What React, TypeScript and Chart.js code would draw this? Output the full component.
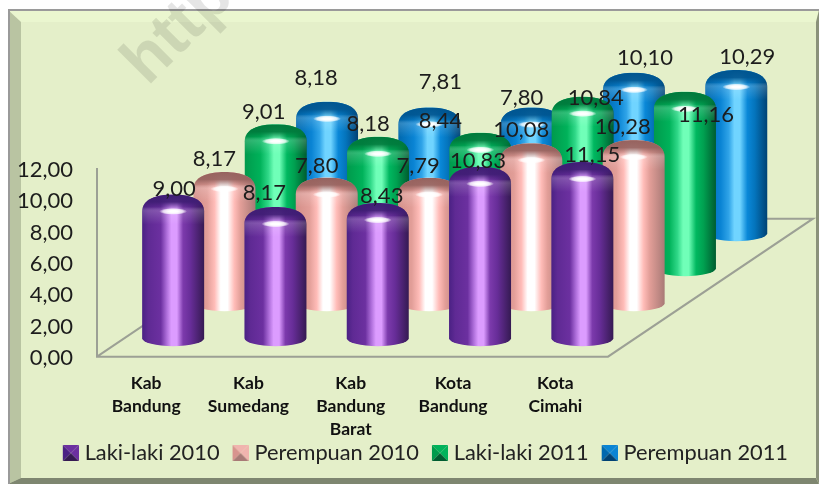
import React, { useEffect, useRef } from "react";
import { Chart, registerables } from "chart.js";

Chart.register(...registerables);

const categories = [["Kab", "Bandung"], ["Kab", "Sumedang"], ["Kab", "Bandung", "Barat"], ["Kota", "Bandung"], ["Kota", "Cimahi"]];
const lakiLaki2010 = [9.0, 8.17, 8.43, 10.83, 11.15];
const perempuan2010 = [8.17, 7.8, 7.79, 10.08, 10.28];
const lakiLaki2011 = [9.01, 8.18, 8.44, 10.84, 11.16];
const perempuan2011 = [8.18, 7.81, 7.8, 10.1, 10.29];
const seriesNames = ["Laki-laki 2010", "Perempuan 2010", "Laki-laki 2011", "Perempuan 2011"];

// horizontal shading of each cylinder, as [position, colour] stops
const shades: [number, string][][] = [
  [[0, "#4a2184"], [0.1, "#5f2a94"], [0.3, "#6c30a0"], [0.4, "#b070dc"], [0.47, "#dc9cff"], [0.56, "#dc9cff"], [0.66, "#7c3aac"], [0.78, "#672d98"], [1, "#351a52"]],
  [[0, "#d48f89"], [0.22, "#e29e98"], [0.34, "#ffbcb8"], [0.44, "#ffffff"], [0.55, "#ffffff"], [0.66, "#ffbcb8"], [0.76, "#e29e98"], [1, "#a87a76"]],
  [[0, "#009a4c"], [0.25, "#00b25a"], [0.38, "#30d888"], [0.47, "#70ffb8"], [0.56, "#70ffb8"], [0.68, "#00b860"], [0.8, "#00a050"], [1, "#005c30"]],
  [[0, "#0068ae"], [0.25, "#0a84d4"], [0.38, "#30a4e8"], [0.47, "#70d4ff"], [0.56, "#70d4ff"], [0.68, "#0a88d8"], [0.8, "#0474bc"], [1, "#004274"]],
];
const rims = ["#3f1d74", "#96625e", "#007a3c", "#005590"];
const swatchTones = [
  ["#4a2184", "#6c30a0", "#351a52"],
  ["#d8948e", "#f0b4ae", "#a87a76"],
  ["#009a4c", "#00b25a", "#005c30"],
  ["#0068ae", "#0a84d4", "#004274"],
];

// label displacement from the cylinder's cap, as placed in the source chart
const labelNudges = [
  [[1, -14], [-11, -22], [4, -15], [-2, -14], [10, -15]],
  [[-10, -21], [-10, -20], [-11, -20], [-10, -21], [-11, -21]],
  [[-12, -20], [-10, -21], [-40, -20], [13, -7], [21, 15]],
  [[-11, -32], [11, -33], [-10, -18], [11, -23], [11, -21]],
];

const FONT = "Lato, Carlito, sans-serif";
const DEPTH_X = 51.3;
const DEPTH_Y = 35;
const RADIUS = 31;
const ELLIPSE = 8;
const PERSPECTIVE = 0.9645;
const FLOOR_LIFT = 19.5;

function capCenter(el: any, s: number) {
  const baseY = el.base - FLOOR_LIFT - DEPTH_Y * s;
  return { cx: el.x + DEPTH_X * s, baseY, topY: baseY - (el.base - el.y) * PERSPECTIVE };
}

function cylinder(ctx: CanvasRenderingContext2D, cx: number, baseY: number, topY: number, s: number) {
  const l = cx - RADIUS;
  const r = cx + RADIUS;
  const top = topY - ELLIPSE;
  ctx.save();
  ctx.beginPath();
  ctx.moveTo(l, baseY);
  ctx.lineTo(l, top + 17);
  ctx.bezierCurveTo(l, top + 5, l + 14, top, cx, top);
  ctx.bezierCurveTo(r - 14, top, r, top + 5, r, top + 17);
  ctx.lineTo(r, baseY);
  ctx.ellipse(cx, baseY, RADIUS, ELLIPSE, 0, 0, Math.PI);
  ctx.closePath();
  const g = ctx.createLinearGradient(l, 0, r, 0);
  shades[s].forEach(([p, c]) => g.addColorStop(p, c));
  ctx.fillStyle = g;
  ctx.fill();
  ctx.clip();
  // cap: dark rim, fading to a light band
  const v = ctx.createLinearGradient(0, top, 0, top + 30);
  v.addColorStop(0, rims[s]);
  v.addColorStop(0.25, rims[s] + "ee");
  v.addColorStop(0.42, rims[s] + "55");
  v.addColorStop(0.55, "rgba(255,255,255,0.18)");
  v.addColorStop(1, "rgba(255,255,255,0)");
  ctx.fillStyle = v;
  ctx.fillRect(l, top, RADIUS * 2, 30);
  // highlight
  ctx.translate(cx, top + 17);
  ctx.scale(1, 0.24);
  const h = ctx.createRadialGradient(0, 0, 4, 0, 0, 14);
  h.addColorStop(0, "rgba(255,255,255,1)");
  h.addColorStop(0.6, "rgba(255,255,255,0.75)");
  h.addColorStop(1, "rgba(255,255,255,0)");
  ctx.fillStyle = h;
  ctx.beginPath();
  ctx.arc(0, 0, 14, 0, Math.PI * 2);
  ctx.fill();
  ctx.restore();
}

const scene = {
  id: "scene",
  afterLayout(chart: any) {
    // let the third line of a category label run past the axis box
    chart.scales.x.bottom = chart.height;
  },
  beforeDraw(chart: any) {
    const { ctx, width: w, height: h } = chart;
    const x0 = 8, y0 = 10, x1 = 816, y1 = 478, bx = 21, by = 22;
    ctx.save();
    ctx.fillStyle = "#ffffff";
    ctx.fillRect(0, 0, w, h);
    ctx.fillStyle = "#e4efc9";
    ctx.fillRect(x0, y0, w - x0, h - y0);
    ctx.fillStyle = "#eaf6cf";
    ctx.beginPath();
    ctx.moveTo(x0, y0); ctx.lineTo(w, y0); ctx.lineTo(x1, by); ctx.lineTo(bx, by);
    ctx.closePath(); ctx.fill();
    ctx.fillStyle = "#b9c4a2";
    ctx.beginPath();
    ctx.moveTo(x0, y0); ctx.lineTo(bx, by); ctx.lineTo(bx, y1); ctx.lineTo(x0, h);
    ctx.closePath(); ctx.fill();
    ctx.fillStyle = "#7e8670";
    ctx.beginPath();
    ctx.moveTo(x0, h); ctx.lineTo(bx, y1); ctx.lineTo(x1, y1); ctx.lineTo(w, h);
    ctx.closePath(); ctx.fill();
    ctx.fillStyle = "#8a917a";
    ctx.beginPath();
    ctx.moveTo(w, y0); ctx.lineTo(x1, by); ctx.lineTo(x1, y1); ctx.lineTo(w, h);
    ctx.closePath(); ctx.fill();
    ctx.strokeStyle = "#9a9a9a";
    ctx.lineWidth = 2;
    ctx.beginPath();
    ctx.moveTo(x0 + 1, h); ctx.lineTo(x0 + 1, y0); ctx.lineTo(w, y0);
    ctx.stroke();
    // watermark
    ctx.translate(135, 74);
    ctx.rotate(-Math.PI / 4);
    ctx.fillStyle = "rgba(0,0,0,0.1)";
    ctx.font = "bold 66px 'Liberation Sans', sans-serif";
    ctx.fillText("http", 0, 0);
    ctx.restore();
  },
  beforeDatasetsDraw(chart: any) {
    const { ctx, chartArea: a } = chart;
    const left = a.left - 25;
    const right = a.right - 25.5;
    const floor = a.bottom - 1;
    const backDx = 205;
    const backDy = 138;
    ctx.save();
    ctx.strokeStyle = "#9ca095";
    ctx.lineWidth = 2;
    ctx.beginPath();
    ctx.moveTo(left, a.top - 2);
    ctx.lineTo(left, floor);
    ctx.lineTo(right, floor);
    ctx.lineTo(right + backDx, floor - backDy);
    ctx.lineTo(left + backDx, floor - backDy);
    ctx.lineTo(left, floor);
    ctx.stroke();
    ctx.restore();
  },
  beforeDatasetDraw(chart: any, args: any) {
    const s = args.index;
    const meta = chart.getDatasetMeta(s);
    meta.data.forEach((el: any) => {
      const p = capCenter(el, s);
      cylinder(chart.ctx, p.cx, p.baseY, p.topY, s);
    });
    return false;
  },
  afterDatasetsDraw(chart: any) {
    const { ctx } = chart;
    ctx.save();
    ctx.fillStyle = "#1c1c1c";
    ctx.font = `22px ${FONT}`;
    ctx.textAlign = "center";
    ctx.textBaseline = "middle";
    chart.data.datasets.forEach((ds: any, s: number) => {
      chart.getDatasetMeta(s).data.forEach((el: any, i: number) => {
        const p = capCenter(el, s);
        const [nx, ny] = labelNudges[s][i];
        ctx.fillText(ds.data[i].toFixed(2).replace(".", ","), p.cx + nx, p.topY + ny);
      });
    });
    ctx.restore();
  },
};

function swatch(s: number) {
  const c = document.createElement("canvas");
  c.width = 22;
  c.height = 16;
  const g = c.getContext("2d")!;
  const x = 6, w = 16, h = 16;
  const tri = (pts: number[][], col: string) => {
    g.fillStyle = col;
    g.beginPath();
    pts.forEach((p, i) => (i ? g.lineTo(p[0], p[1]) : g.moveTo(p[0], p[1])));
    g.closePath();
    g.fill();
  };
  const m = [x + w / 2, h / 2];
  const t = swatchTones[s];
  tri([[x, 0], [x + w, 0], m], t[1]);
  tri([[x, 0], [x, h], m], t[0]);
  tri([[x + w, 0], [x + w, h], m], t[1]);
  tri([[x, h], [x + w, h], m], t[2]);
  return c;
}

export default function App() {
  const ref = useRef<HTMLCanvasElement>(null);
  useEffect(() => {
    const swatches = [0, 1, 2, 3].map(swatch);
    const values = [lakiLaki2010, perempuan2010, lakiLaki2011, perempuan2011];
    const chart = new Chart(ref.current!, {
      type: "bar",
      data: {
        labels: categories,
        datasets: values.map((data, s) => ({
          label: seriesNames[s],
          data,
          backgroundColor: swatchTones[s][1],
          grouped: false,
        })),
      },
      plugins: [scene],
      options: {
        animation: false,
        responsive: false,
        devicePixelRatio: 1,
        layout: { padding: { top: 170, left: 0, right: 19, bottom: 10 } },
        scales: {
          x: {
            offset: true,
            grid: { display: false },
            border: { display: false },
            afterFit: (sc: any) => { sc.height = 72.5; },
            ticks: {
              autoSkip: false,
              maxRotation: 0,
              minRotation: 0,
              labelOffset: -27,
              padding: 6,
              color: "#111111",
              font: { family: FONT, size: 17.5, weight: "bold", lineHeight: 1.32 },
            },
          },
          y: {
            min: 0,
            max: 12,
            grid: { display: false },
            border: { display: false },
            afterFit: (sc: any) => { sc.width = 122; },
            ticks: {
              stepSize: 2,
              padding: 41,
              color: "#1c1c1c",
              font: { family: FONT, size: 22 },
              callback: (v: any) => Number(v).toFixed(2).replace(".", ","),
            },
          },
          spacer: {
            position: "right",
            display: true,
            grid: { display: false },
            border: { display: false },
            ticks: { display: false },
            afterFit: (sc: any) => { sc.width = 166.5; },
          },
        },
        plugins: {
          tooltip: { enabled: false },
          legend: {
            position: "bottom",
            align: "end",
            labels: {
              usePointStyle: true,
              pointStyleWidth: 12,
              padding: 12,
              color: "#222222",
              font: { family: FONT, size: 21.8 },
              generateLabels: (ch: any) =>
                ch.data.datasets.map((d: any, i: number) => ({
                  text: d.label,
                  pointStyle: swatches[i],
                  datasetIndex: i,
                  fontColor: "#222222",
                  fillStyle: d.backgroundColor,
                  lineWidth: 0,
                })),
            },
          },
        },
      },
    } as any);
    return () => chart.destroy();
  }, []);
  return (
    <div style={{ position: "fixed", left: 0, top: 0 }}>
      <canvas ref={ref} width={819} height={484} style={{ display: "block" }} />
    </div>
  );
}
